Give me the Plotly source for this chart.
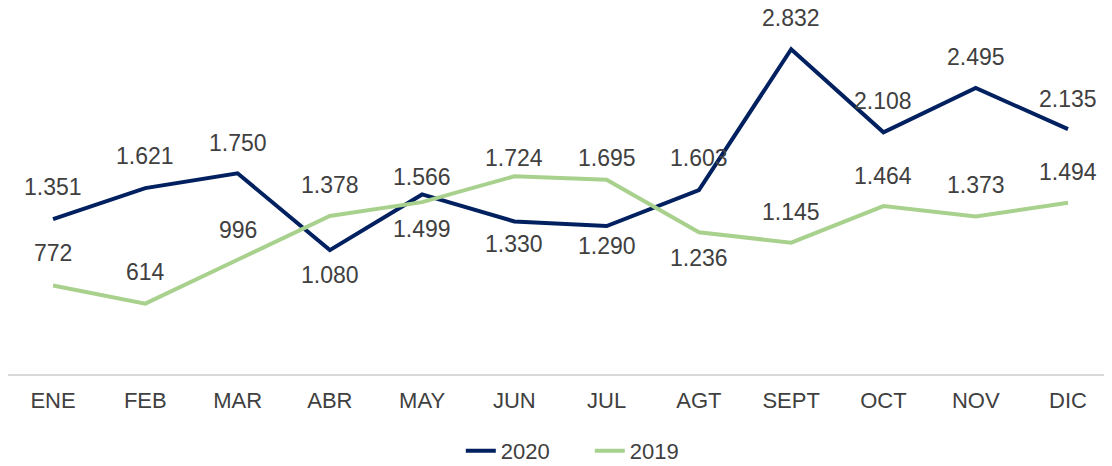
import plotly.graph_objects as go

months = ["ENE", "FEB", "MAR", "ABR", "MAY", "JUN", "JUL", "AGT", "SEPT", "OCT", "NOV", "DIC"]
values_2020 = [1351, 1621, 1750, 1080, 1566, 1330, 1290, 1603, 2832, 2108, 2495, 2135]
values_2019 = [772, 614, 996, 1378, 1499, 1724, 1695, 1236, 1145, 1464, 1373, 1494]

# label vertical offsets (px, positive = above point)
shift_2020 = [32, 32, 30, -25, 17, -23, -20, 32, 31, 31, 31, 30]
shift_2019 = [32, 32, 30, 31, -27, 18, 22, -26, 31, 30, 32, 31]

NAVY = "#002060"
GREEN = "#A9D18E"
TXT = "#404040"
FONT = "Liberation Sans, Arial, sans-serif"


def fmt(v):
    return f"{v:,}".replace(",", ".")


fig = go.Figure()
fig.add_trace(go.Scatter(x=months, y=values_2020, mode="lines", name="2020",
                         line=dict(color=NAVY, width=4)))
fig.add_trace(go.Scatter(x=months, y=values_2019, mode="lines", name="2019",
                         line=dict(color=GREEN, width=4)))

annotations = []
for vals, shifts in ((values_2020, shift_2020), (values_2019, shift_2019)):
    for m, v, s in zip(months, vals, shifts):
        annotations.append(dict(x=m, y=v, xref="x", yref="y", text=fmt(v),
                                showarrow=False, yshift=s, yanchor="middle",
                                xanchor="center",
                                font=dict(family=FONT, size=23, color=TXT)))

fig.update_layout(
    width=1104, height=466,
    margin=dict(l=0, r=0, t=22, b=100, autoexpand=False),
    paper_bgcolor="white", plot_bgcolor="white",
    font=dict(family=FONT, color=TXT),
    showlegend=True,
    legend=dict(orientation="h", x=0.527, xanchor="center", y=-0.224, yanchor="middle",
                entrywidth=84, entrywidthmode="pixels",
                font=dict(family=FONT, size=22, color=TXT), traceorder="normal"),
    annotations=annotations,
    xaxis=dict(range=[-0.488, 11.477], showgrid=False, zeroline=False, automargin=False,
               showline=True, linecolor="#D9D9D9", linewidth=2,
               ticks="", ticklabelstandoff=6,
               tickfont=dict(family=FONT, size=22, color=TXT)),
    yaxis=dict(range=[0, 3000], visible=False, showgrid=False, zeroline=False,
               automargin=False),
)

fig.write_html("out.html")
